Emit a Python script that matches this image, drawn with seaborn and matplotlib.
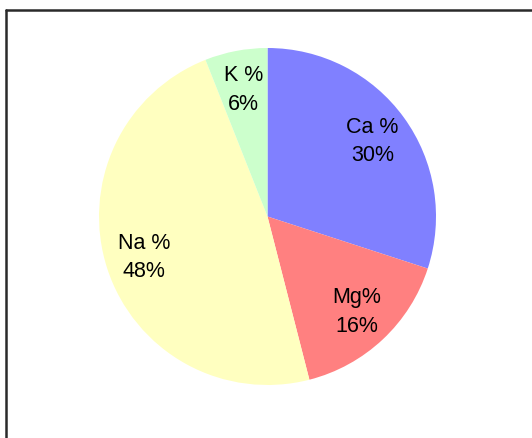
import matplotlib
matplotlib.use('Agg')
import matplotlib.pyplot as plt
import seaborn as sns
from matplotlib.lines import Line2D

elements = ['Ca %', 'Mg%', 'Na %', 'K %']
shares = [30, 16, 48, 6]
colors = ['#8080FF', '#FF8080', '#FFFFC0', '#CCFFCC']


def main(plot_file):
    sns.set_theme(style='white')
    plt.rcParams['font.family'] = ['Liberation Sans', 'DejaVu Sans']

    fig = plt.figure(figsize=(5.32, 4.39), dpi=100)
    W, H = 532, 439
    cx, cy, r = 267.5, 217.5, 168.5
    ax = fig.add_axes([(cx - r) / W, (H - cy - r) / H, 2 * r / W, 2 * r / H])

    labels = [f'{e}\n{s}%' for e, s in zip(elements, shares)]
    wedges, texts = ax.pie(shares, labels=labels, colors=colors,
                           startangle=90, counterclock=False,
                           labeldistance=0.77, radius=1,
                           wedgeprops={'linewidth': 0})
    for t in texts:
        t.set_horizontalalignment('center')
        t.set_verticalalignment('center')
        t.set_fontsize(15.5)
        t.set_linespacing(1.45)
        t.set_color('black')
    ax.set_xlim(-1, 1)
    ax.set_ylim(-1, 1)
    ax.axis('off')

    # chart frame (left and top edges visible in the crop)
    fig.add_artist(Line2D([5.5 / W, 5.5 / W], [0, 1 - 10.5 / H],
                          transform=fig.transFigure, color='#2a2a2a', lw=1.8))
    fig.add_artist(Line2D([5.5 / W, 1], [1 - 10.5 / H, 1 - 10.5 / H],
                          transform=fig.transFigure, color='#2a2a2a', lw=1.8))

    fig.savefig(plot_file, dpi=100)


if __name__ == '__main__':
    main('out.png')
